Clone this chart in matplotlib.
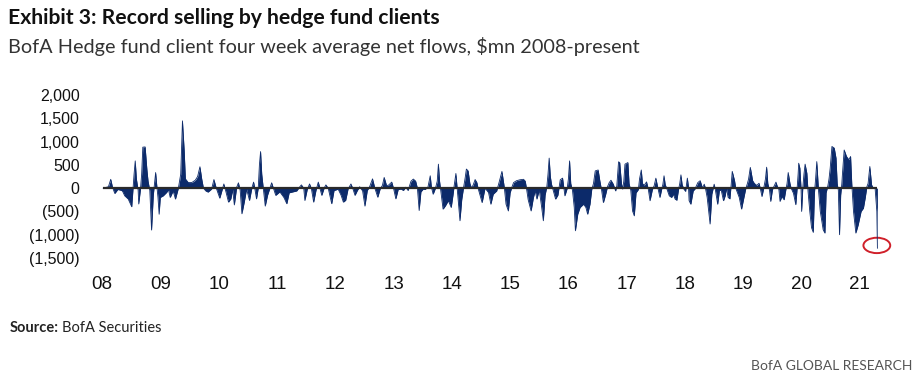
import matplotlib.pyplot as plt
from matplotlib.patches import Ellipse

# weekly-ish readings of the 4wk avg net flow ($mn), x as decimal year
dates = [
    2008.02, 2008.11, 2008.15, 2008.18, 2008.22, 2008.27, 2008.31, 2008.35, 2008.39, 2008.45, 2008.51, 2008.53, 2008.55, 2008.57, 2008.59, 2008.62, 2008.63, 2008.66, 2008.68, 2008.70, 2008.74, 2008.77, 2008.79, 2008.82, 2008.85, 2008.88, 2008.90, 2008.92, 2008.94, 2008.96, 2008.98,
    2009.00, 2009.05, 2009.11, 2009.14, 2009.17, 2009.22, 2009.26, 2009.31, 2009.35, 2009.38, 2009.41, 2009.43, 2009.48, 2009.54, 2009.60, 2009.64, 2009.68, 2009.71, 2009.74, 2009.78, 2009.82, 2009.88, 2009.92, 2009.96,
    2010.02, 2010.06, 2010.09, 2010.12, 2010.17, 2010.21, 2010.24, 2010.27, 2010.31, 2010.34, 2010.37, 2010.40, 2010.44, 2010.48, 2010.53, 2010.57, 2010.60, 2010.62, 2010.65, 2010.68, 2010.70, 2010.72, 2010.74, 2010.77, 2010.80, 2010.84, 2010.88, 2010.91, 2010.94, 2010.98,
    2011.05, 2011.12, 2011.17, 2011.21, 2011.26, 2011.34, 2011.38, 2011.42, 2011.46, 2011.48, 2011.52, 2011.56, 2011.59, 2011.63, 2011.67, 2011.71, 2011.77, 2011.81, 2011.84, 2011.88, 2011.94, 2011.98,
    2012.01, 2012.05, 2012.10, 2012.14, 2012.18, 2012.22, 2012.27, 2012.30, 2012.34, 2012.38, 2012.42, 2012.47, 2012.51, 2012.55, 2012.59, 2012.64, 2012.68, 2012.73, 2012.77, 2012.81, 2012.84, 2012.88, 2012.91, 2012.97,
    2013.00, 2013.04, 2013.08, 2013.13, 2013.17, 2013.21, 2013.25, 2013.30, 2013.34, 2013.38, 2013.41, 2013.44, 2013.47, 2013.51, 2013.54, 2013.59, 2013.63, 2013.65, 2013.68, 2013.72, 2013.75, 2013.77, 2013.79, 2013.81, 2013.85, 2013.89, 2013.94, 2013.99,
    2014.02, 2014.04, 2014.07, 2014.09, 2014.11, 2014.14, 2014.17, 2014.20, 2014.23, 2014.25, 2014.28, 2014.31, 2014.34, 2014.37, 2014.40, 2014.43, 2014.45, 2014.48, 2014.52, 2014.57, 2014.63, 2014.67, 2014.71, 2014.77, 2014.81, 2014.86, 2014.90, 2014.93, 2014.97,
    2015.00, 2015.03, 2015.06, 2015.11, 2015.17, 2015.23, 2015.26, 2015.28, 2015.31, 2015.36, 2015.40, 2015.43, 2015.46, 2015.50, 2015.54, 2015.57, 2015.60, 2015.63, 2015.65, 2015.67, 2015.69, 2015.71, 2015.74, 2015.78, 2015.82, 2015.86, 2015.90, 2015.92, 2015.94, 2015.98,
    2016.00, 2016.02, 2016.04, 2016.07, 2016.10, 2016.12, 2016.16, 2016.20, 2016.26, 2016.30, 2016.33, 2016.37, 2016.40, 2016.43, 2016.46, 2016.51, 2016.54, 2016.57, 2016.60, 2016.64, 2016.67, 2016.70, 2016.73, 2016.77, 2016.81, 2016.83, 2016.86, 2016.88, 2016.91, 2016.93, 2016.95, 2016.97,
    2017.02, 2017.04, 2017.07, 2017.10, 2017.13, 2017.16, 2017.20, 2017.22, 2017.25, 2017.27, 2017.30, 2017.34, 2017.37, 2017.40, 2017.44, 2017.47, 2017.50, 2017.53, 2017.57, 2017.60, 2017.62, 2017.64, 2017.66, 2017.69, 2017.73, 2017.77, 2017.80, 2017.83, 2017.86, 2017.89, 2017.91, 2017.93, 2017.95, 2017.98,
    2018.01, 2018.04, 2018.06, 2018.07, 2018.10, 2018.14, 2018.17, 2018.22, 2018.26, 2018.30, 2018.33, 2018.35, 2018.38, 2018.43, 2018.46, 2018.50, 2018.52, 2018.56, 2018.59, 2018.62, 2018.66, 2018.69, 2018.71, 2018.74, 2018.77, 2018.79, 2018.81, 2018.85, 2018.87, 2018.93, 2018.97,
    2019.01, 2019.04, 2019.07, 2019.09, 2019.12, 2019.16, 2019.19, 2019.23, 2019.27, 2019.29, 2019.32, 2019.35, 2019.38, 2019.40, 2019.42, 2019.45, 2019.47, 2019.50, 2019.53, 2019.56, 2019.58, 2019.61, 2019.63, 2019.66, 2019.70, 2019.73, 2019.75, 2019.77, 2019.80, 2019.82, 2019.86, 2019.90, 2019.92, 2019.94, 2019.95, 2019.97, 2019.99,
    2020.00, 2020.02, 2020.04, 2020.06, 2020.09, 2020.11, 2020.14, 2020.17, 2020.20, 2020.22, 2020.24, 2020.26, 2020.28, 2020.29, 2020.32, 2020.37, 2020.40, 2020.42, 2020.45, 2020.47, 2020.49, 2020.52, 2020.56, 2020.59, 2020.61, 2020.63, 2020.65, 2020.67, 2020.69, 2020.70, 2020.73, 2020.77, 2020.81, 2020.84, 2020.86, 2020.89, 2020.93, 2020.97,
    2021.02, 2021.06, 2021.09, 2021.12, 2021.14, 2021.17, 2021.20, 2021.23, 2021.26, 2021.29, 2021.30,
]
flows = [
    0, 30, 190, 20, -115, -30, -40, -60, -165, -235, -400, -50, 300, 585, 200, -50, -340, -20, 300, 880, 885, 400, 150, -50, -900, -150, 100, 335, 50, -200, -560,
    -200, -165, -90, -30, -200, -60, -235, 0, 300, 1445, 800, 200, 120, 120, 170, 250, 460, 200, 0, -60, -85, -20, 185, 0,
    -215, -40, 90, -50, -300, -230, -30, -360, 20, 115, -50, -550, -300, -20, -265, 0, 130, 0, -230, 0, 500, 785, 300, -50, -385, -150, 0, 115, 0, -155,
    -80, -200, -335, -100, -85, -60, 10, 70, 0, -265, -30, 90, 0, -300, -50, 130, -155, 0, 70, 0, -335, -50,
    -40, -20, -150, -300, -260, -20, 90, 0, -155, -50, 30, -60, -385, -50, 30, 200, 0, -195, -20, 60, 230, 60, 60, 130,
    0, -230, -30, -20, -50, 20, -50, 150, 195, 150, 0, -480, -80, -20, -30, 20, 265, 20, -130, 0, 150, 515, 150, -50, -450, -380, -270, -415,
    -150, 50, 315, 20, -300, -700, -250, 0, 230, 410, 370, 100, 0, 80, 185, 120, 0, -130, -310, 0, -95, -345, -130, -60, 120, 360, 20, -345, -490,
    -100, 20, 120, 160, 180, 190, 150, 0, -250, -490, -200, -60, -235, -40, -400, -700, -150, 30, 300, 645, 250, 85, -50, -235, -150, 180, 215, 20, -165, 0,
    200, 585, 100, -50, -415, -915, -560, -415, -345, -415, -560, -345, -30, 100, 370, 390, 150, -50, -310, -130, 30, 120, 170, 85, -60, 50, 565, 550, 100, -20, 150, 515,
    550, 100, -50, -490, -595, -100, -30, 200, 390, 100, 60, 135, -20, -270, -30, 50, 215, 30, -200, -20, 80, 265, 80, -20, -165, -200, -130, -235, -260, -20, 100, 285, 80, -20,
    -70, 215, 20, -270, -345, -60, -20, 120, 160, 0, 85, 0, -200, -770, -130, 85, -30, -345, -50, -40, -270, -160, 0, -200, -230, 50, 360, 160, 0, -200, -450,
    -200, -20, 100, 195, 445, 160, 100, 60, 105, 0, -180, 0, 200, 450, 100, -50, -285, -30, 50, 130, 50, -30, -285, -180, -250, -30, 100, 335, 100, 0, -110, -355, -50, 300, 535, 430, 0,
    -500, 0, 300, 515, 320, -70, -500, -850, -950, -100, 200, 570, 150, -50, -500, -895, -965, -100, 50, 200, 430, 895, 860, 645, 100, -50, -1000, -150, 100, 300, 820, 680, 610, 680, 100, -500, -965, -790,
    -500, -430, -215, 35, 100, 465, 70, 0, 0, -500, -1290,
]

year_ticks = list(range(2008, 2022))
year_labels = ['08', '09', '10', '11', '12', '13', '14', '15', '16', '17', '18', '19', '20', '21']
y_ticks = [-1500, -1000, -500, 0, 500, 1000, 1500, 2000]
y_labels = ['(1,500)', '(1,000)', '(500)', '0', '500', '1,000', '1,500', '2,000']

navy = '#0c2a6a'
W, H = 923, 383
fig = plt.figure(figsize=(W / 100, H / 100), dpi=100)
ax = fig.add_axes([95 / W, 1 - 258 / H, 795 / W, 163 / H])

ax.fill_between(dates, flows, 0, color=navy, linewidth=0)
ax.plot(dates, flows, color=navy, linewidth=0.6)
ax.hlines(0, dates[0], dates[-1], color='#2a2a2a', linewidth=1.6)

# red ring round the latest reading
ax.add_patch(Ellipse((dates[-1] - 0.01, -1230), 0.46, 330, fill=False,
                     edgecolor='#d0202a', linewidth=1.4, clip_on=False))

ax.set_xlim(2007.88, 2021.516)
ax.set_ylim(-1500, 2000)
ax.set_xticks(year_ticks)
ax.set_xticklabels(year_labels, fontsize=13.5, family='Liberation Sans')
ax.set_yticks(y_ticks)
ax.set_yticklabels(y_labels, fontsize=11.5, family='Liberation Sans')
ax.tick_params(axis='x', length=0, pad=13, colors='#111111')
ax.tick_params(axis='y', length=0, pad=11, colors='#111111')
for s in ax.spines.values():
    s.set_visible(False)

fig.text(8 / W, 1 - 18 / H, 'Exhibit 3: Record selling by hedge fund clients',
         fontsize=15.2, fontweight='bold', family='Lato',
         va='center', ha='left', color='#111111')
fig.text(8 / W, 1 - 46 / H, 'BofA Hedge fund client four week average net flows, $mn 2008-present',
         fontsize=14.3, family='Lato', va='center', ha='left', color='#333333')
src = fig.text(10 / W, 1 - 328 / H, 'Source:', fontsize=10.5, fontweight='bold',
               family='Lato', va='center', ha='left', color='#222222')
plt.annotate('BofA Securities', xy=(1, 0.5), xycoords=src, xytext=(2, 0),
             textcoords='offset points', fontsize=10.5, family='Lato',
             va='center', ha='left', color='#222222')
fig.text(912 / W, 1 - 366 / H, 'BofA GLOBAL RESEARCH', fontsize=10,
         family='Lato', va='center', ha='right', color='#555555')

plt.savefig('out.png', dpi=100)
